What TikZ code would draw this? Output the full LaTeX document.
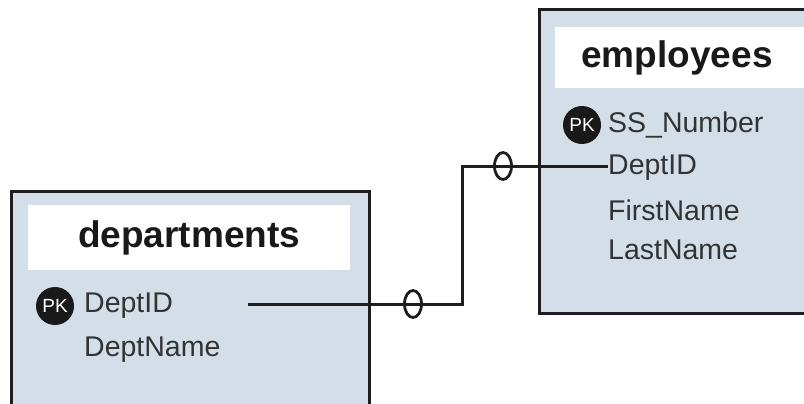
\documentclass[tikz,border=0pt]{standalone}
\usepackage{fontspec}
\setmainfont{Liberation Sans}
\usetikzlibrary{shapes.geometric}
\definecolor{tblfill}{HTML}{D3DEE9}
\definecolor{edge}{HTML}{1E1E1E}
\definecolor{txt}{HTML}{333333}
\tikzset{
  table/.style={draw=edge, line width=3pt, fill=tblfill, rectangle, anchor=north west, inner sep=0pt},
  titlebox/.style={fill=white, rectangle, anchor=north west, inner sep=0pt},
  title/.style={font=\fontsize{37}{40}\selectfont\bfseries, text=black!90},
  field/.style={font=\fontsize{28.5}{30}\selectfont, text=txt, anchor=west, inner sep=0pt},
  pk/.style={circle, fill=black!90, minimum size=38pt, inner sep=0pt, text=white, font=\fontsize{19}{19}\selectfont},
  link/.style={draw=edge, line width=3pt},
  zero/.style={ellipse, draw=edge, line width=2.8pt, minimum width=17pt, minimum height=27pt, inner sep=0pt}
}
\begin{document}
\begin{tikzpicture}[x=1pt,y=-1pt]
\useasboundingbox (0,0) rectangle (804,404);
\clip (0,0) rectangle (804,404);
\fill[white] (0,0) rectangle (804,404);
% departments table
\node[table, minimum width=358pt, minimum height=240pt] (dept) at (10,190) {};
\node[titlebox, minimum width=322pt, minimum height=65pt] (depttitlebox) at (28,205) {};
\node[title] (depttitle) at (depttitlebox.center) {departments};
\node[pk] (dpk) at (55,306) {PK};
\node[field] (ddeptid) at (84,306) {DeptID};
\node[field] (ddeptname) at (84,350) {DeptName};
% employees table
\node[table, minimum width=300pt, minimum height=304pt] (emp) at (538,8) {};
\node[titlebox, minimum width=260pt, minimum height=61pt] (emptitlebox) at (555,27) {};
\node[title] (emptitle) at (677,58) {employees};
\node[pk] (epk) at (582,125) {PK};
\node[field] (essn) at (608,125) {SS\_Number};
\node[field] (edeptid) at (608,168) {DeptID};
\node[field] (efirst) at (608,210) {FirstName};
\node[field] (elast) at (608,250) {LastName};
% relationship
\coordinate (start) at (248,304);
\coordinate (bend1) at (462,304);
\coordinate (bend2) at (462,166);
\coordinate (stop) at (edeptid.west |- bend2);
\draw[link] (start) -- (bend1) -- (bend2) -- (stop);
\node[zero] (z1) at (413,304) {};
\node[zero] (z2) at (503,166) {};
\end{tikzpicture}
\end{document}
